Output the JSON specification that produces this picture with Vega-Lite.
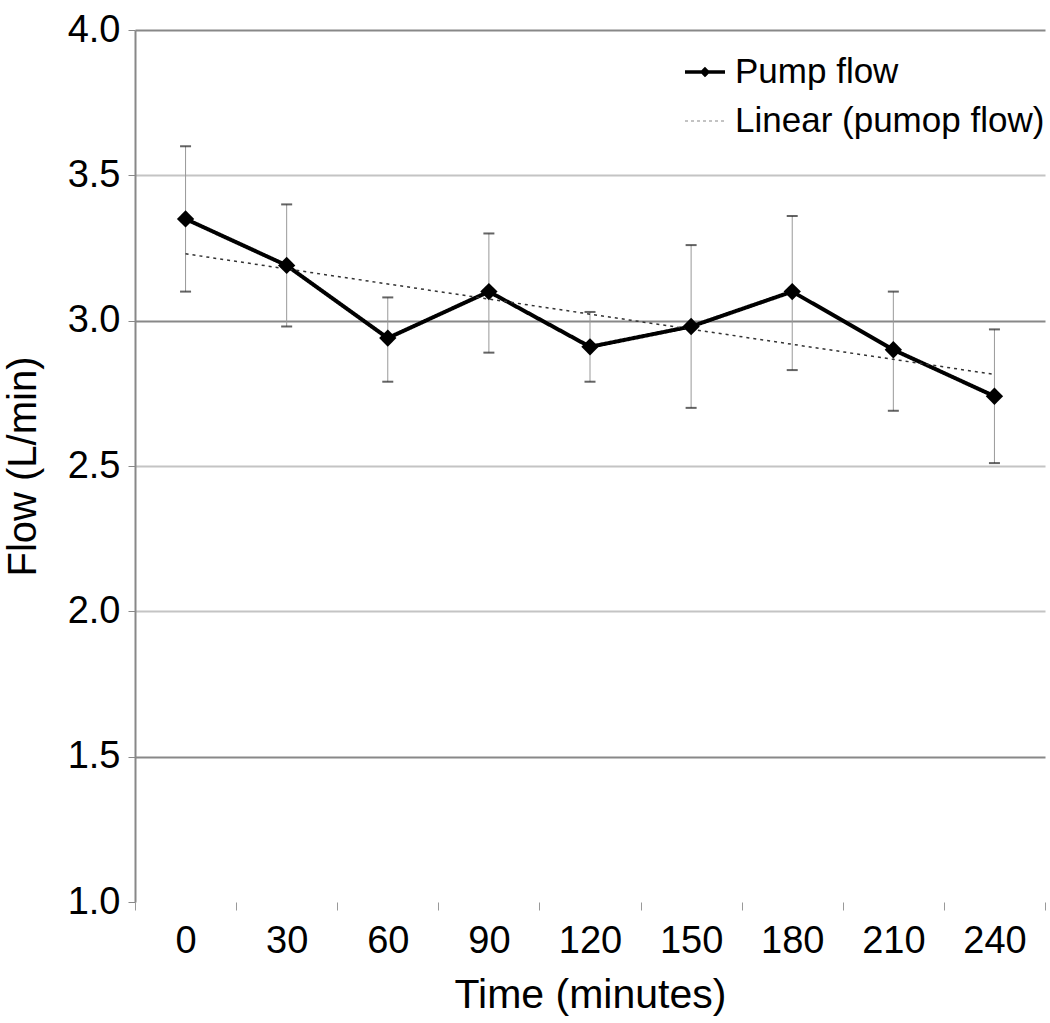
{
  "$schema": "https://vega.github.io/schema/vega-lite/v6.json",
  "width": 910,
  "height": 872,
  "autosize": {"type": "none"},
  "padding": {"left": 135, "top": 30, "right": 5, "bottom": 121},
  "background": "white",
  "config": {
    "view": {"stroke": null},
    "font": "Liberation Sans",
    "axis": {"labelFont": "Liberation Sans", "titleFont": "Liberation Sans", "labelColor": "black", "titleColor": "black", "titleFontWeight": "normal"}
  },
  "data": {
    "values": [
      {"time": 0, "series": "Pump flow", "flow": 3.35, "lo": 3.10, "hi": 3.60},
      {"time": 30, "series": "Pump flow", "flow": 3.19, "lo": 2.98, "hi": 3.40},
      {"time": 60, "series": "Pump flow", "flow": 2.94, "lo": 2.79, "hi": 3.08},
      {"time": 90, "series": "Pump flow", "flow": 3.10, "lo": 2.89, "hi": 3.30},
      {"time": 120, "series": "Pump flow", "flow": 2.91, "lo": 2.79, "hi": 3.03},
      {"time": 150, "series": "Pump flow", "flow": 2.98, "lo": 2.70, "hi": 3.26},
      {"time": 180, "series": "Pump flow", "flow": 3.10, "lo": 2.83, "hi": 3.36},
      {"time": 210, "series": "Pump flow", "flow": 2.90, "lo": 2.69, "hi": 3.10},
      {"time": 240, "series": "Pump flow", "flow": 2.74, "lo": 2.51, "hi": 2.97},
      {"time": 0, "series": "Linear (pumop flow)", "flow": 3.23},
      {"time": 240, "series": "Linear (pumop flow)", "flow": 2.815}
    ]
  },
  "encoding": {
    "x": {
      "field": "time",
      "type": "ordinal",
      "scale": {"type": "band", "domain": [0, 30, 60, 90, 120, 150, 180, 210, 240], "paddingInner": 0, "paddingOuter": 0},
      "axis": {
        "title": "Time (minutes)",
        "titleFontSize": 41,
        "titlePadding": 15,
        "labelFontSize": 38,
        "labelAngle": 0,
        "labelPadding": 12,
        "domain": false,
        "tickBand": "extent",
        "tickSize": 8,
        "tickColor": "#999",
        "grid": false
      }
    },
    "y": {
      "field": "flow",
      "type": "quantitative",
      "scale": {"domain": [1, 4], "nice": false, "zero": false},
      "axis": {
        "title": "Flow (L/min)",
        "titleFontSize": 40,
        "titlePadding": 24,
        "labelFontSize": 38,
        "labelPadding": 8,
        "values": [1, 1.5, 2, 2.5, 3, 3.5, 4],
        "format": ".1f",
        "domainColor": "#888",
        "domainWidth": 2,
        "tickColor": "#888",
        "tickSize": 7,
        "grid": true,
        "gridColor": {"condition": {"test": "datum.value === 4 || datum.value === 3 || datum.value === 1.5", "value": "#888"}, "value": "#c4c4c4"},
        "gridOpacity": {"condition": {"test": "datum.value === 1", "value": 0}, "value": 1},
        "gridWidth": 2
      }
    }
  },
  "layer": [
    {
      "transform": [{"filter": "datum.series === 'Pump flow'"}],
      "mark": {"type": "rule", "color": "#999", "strokeWidth": 1},
      "encoding": {"y": {"field": "lo", "type": "quantitative"}, "y2": {"field": "hi"}}
    },
    {
      "transform": [{"filter": "datum.series === 'Pump flow'"}],
      "mark": {"type": "tick", "orient": "horizontal", "color": "#222", "size": 11, "thickness": 2},
      "encoding": {"y": {"field": "hi", "type": "quantitative"}}
    },
    {
      "transform": [{"filter": "datum.series === 'Pump flow'"}],
      "mark": {"type": "tick", "orient": "horizontal", "color": "#222", "size": 11, "thickness": 2},
      "encoding": {"y": {"field": "lo", "type": "quantitative"}}
    },
    {
      "mark": {"type": "line"},
      "encoding": {
        "detail": {"field": "series"},
        "color": {"field": "series", "type": "nominal", "scale": {"range": ["#333", "black"]}, "legend": null},
        "strokeDash": {"field": "series", "type": "nominal", "scale": {"range": [[3, 4], [1, 0]]}, "legend": null},
        "strokeWidth": {"field": "series", "type": "nominal", "scale": {"range": [1.5, 4]}, "legend": null}
      }
    },
    {
      "transform": [{"filter": "datum.series === 'Pump flow'"}],
      "mark": {"type": "point", "shape": "diamond", "filled": true, "color": "black", "size": 300, "opacity": 1}
    },
    {
      "mark": {"type": "point", "filled": false, "opacity": 0},
      "encoding": {
        "color": {
          "field": "series",
          "type": "nominal",
          "scale": {"domain": ["Pump flow", "Linear (pumop flow)"], "range": ["black", "#888"]},
          "legend": {
            "title": null,
            "orient": "none",
            "legendX": 548,
            "legendY": 20,
            "labelFontSize": 35,
            "labelFont": "Liberation Sans",
            "labelColor": "black",
            "labelLimit": 400,
            "labelOffset": 8,
            "symbolSize": 1600,
            "symbolOpacity": 1,
            "rowPadding": 10,
            "padding": 0
          }
        },
        "shape": {
          "field": "series",
          "type": "nominal",
          "scale": {"domain": ["Pump flow", "Linear (pumop flow)"], "range": ["M-1,0L1,0M0,-0.14L0.14,0L0,0.14L-0.14,0Z", "M-1,0L1,0"]},
          "legend": {
            "title": null,
            "orient": "none",
            "legendX": 548,
            "legendY": 20,
            "labelFontSize": 35,
            "labelFont": "Liberation Sans",
            "labelColor": "black",
            "labelLimit": 400,
            "labelOffset": 8,
            "symbolSize": 1600,
            "symbolOpacity": 1,
            "rowPadding": 10,
            "padding": 0
          }
        },
        "strokeDash": {
          "field": "series",
          "type": "nominal",
          "scale": {"domain": ["Pump flow", "Linear (pumop flow)"], "range": [[1, 0], [3, 3]]}
        },
        "strokeWidth": {
          "field": "series",
          "type": "nominal",
          "scale": {"domain": ["Pump flow", "Linear (pumop flow)"], "range": [3.5, 1.2]}
        }
      }
    }
  ],
  "resolve": {"scale": {"color": "independent", "strokeDash": "independent", "strokeWidth": "independent", "shape": "independent"}}
}
